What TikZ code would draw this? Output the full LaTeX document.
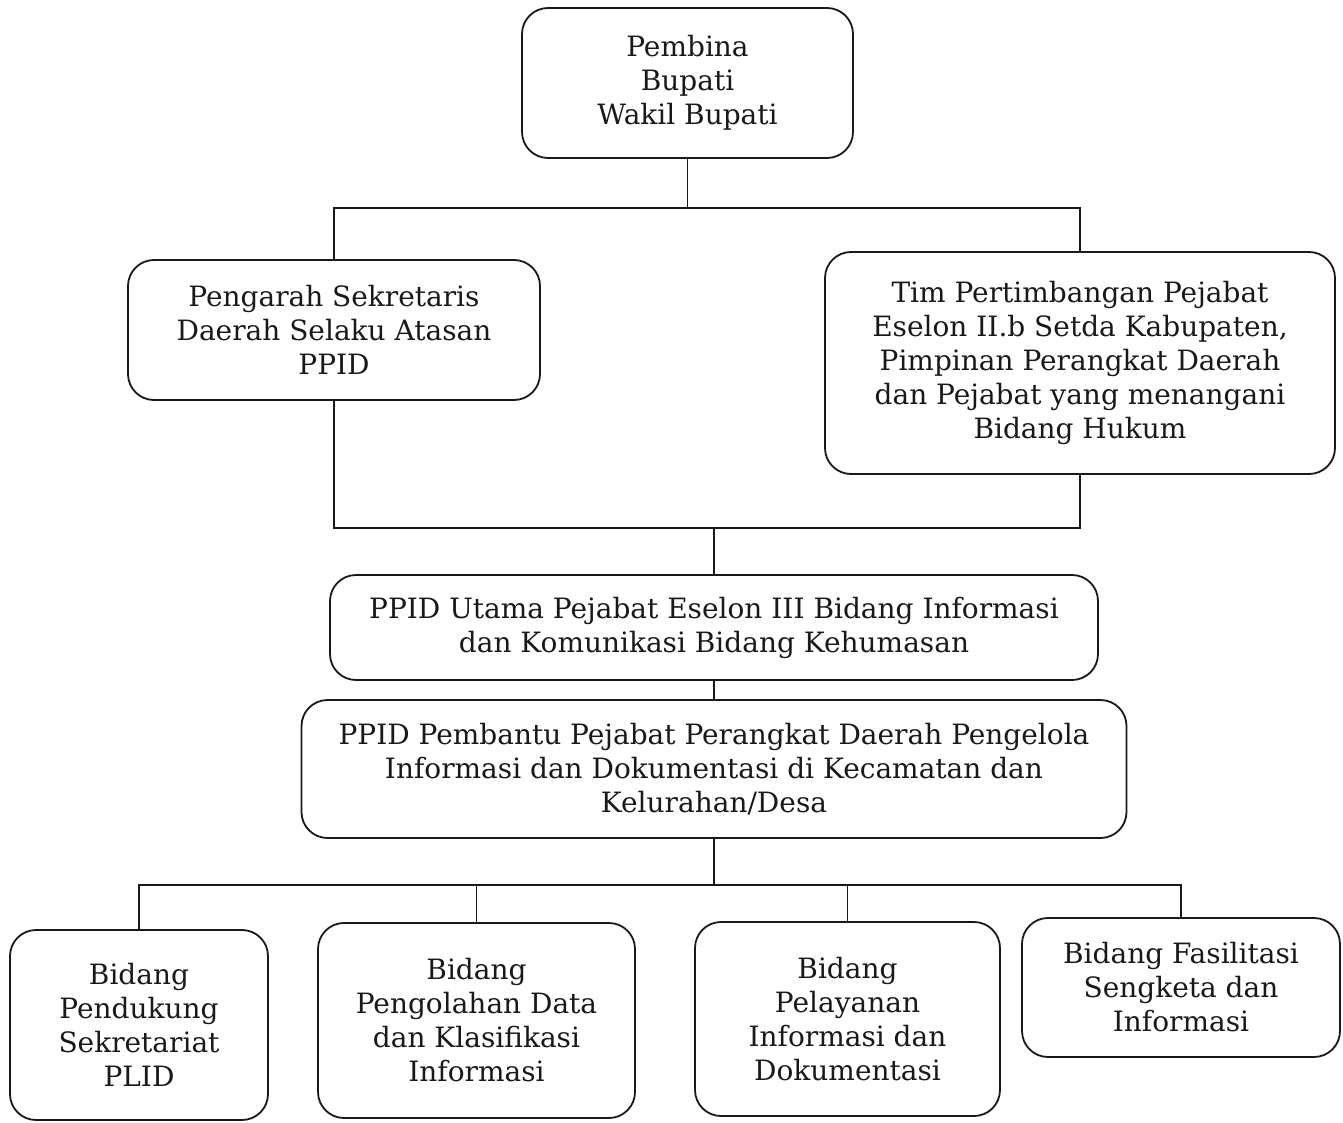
\documentclass[tikz,border=0pt]{standalone}
\usepackage{fontspec}
\setmainfont{DejaVu Serif}
\begin{document}
\begin{tikzpicture}[x=1pt,y=-1pt,
  box/.style={draw=black!90, line width=1.8pt, rounded corners=26pt, align=center,
    font=\fontsize{28}{34}\selectfont, text=black!90, inner sep=0pt},
  link/.style={draw=black!90, line width=1.8pt}]
\useasboundingbox (0,0) rectangle (1343,1123);
\node[box, minimum width=331pt, minimum height=150pt] (pembina) at (687.5,83) {Pembina\\Bupati\\Wakil Bupati};
\node[box, minimum width=412pt, minimum height=140pt] (pengarah) at (334,330) {Pengarah Sekretaris\\Daerah Selaku Atasan\\PPID};
\node[box, minimum width=510pt, minimum height=222pt] (tim) at (1080,363) {Tim Pertimbangan Pejabat\\Eselon II.b Setda Kabupaten,\\Pimpinan Perangkat Daerah\\dan Pejabat yang menangani\\Bidang Hukum};
\node[box, minimum width=768pt, minimum height=105pt] (utama) at (714,627.5) {PPID Utama Pejabat Eselon III Bidang Informasi\\dan Komunikasi Bidang Kehumasan};
\node[box, minimum width=825pt, minimum height=138pt] (pembantu) at (714,769) {PPID Pembantu Pejabat Perangkat Daerah Pengelola\\Informasi dan Dokumentasi di Kecamatan dan\\Kelurahan/Desa};
\node[box, minimum width=258pt, minimum height=190pt] (b1) at (139,1025) {Bidang\\Pendukung\\Sekretariat\\PLID};
\node[box, minimum width=317pt, minimum height=195pt] (b2) at (476.5,1020.5) {Bidang\\Pengolahan Data\\dan Klasifikasi\\Informasi};
\node[box, minimum width=305pt, minimum height=194pt] (b3) at (847.5,1019) {Bidang\\Pelayanan\\Informasi dan\\Dokumentasi};
\node[box, minimum width=318pt, minimum height=139pt] (b4) at (1181,987.5) {Bidang Fasilitasi\\Sengketa dan\\Informasi};

\coordinate (bus1) at (687.5,208);
\coordinate (bus2) at (714,528);
\coordinate (bus3) at (714,885);

\draw[link] (pembina.south) -- (bus1);
\draw[link] (pengarah.north) -- (pengarah.north |- bus1) -- (tim.north |- bus1) -- (tim.north);
\draw[link] (pengarah.south) -- (pengarah.south |- bus2) -- (tim.south |- bus2) -- (tim.south);
\draw[link] (bus2) -- (utama.north);
\draw[link] (utama.south) -- (pembantu.north);
\draw[link] (pembantu.south) -- (bus3);
\draw[link] (b1.north) -- (b1.north |- bus3) -- (b4.north |- bus3) -- (b4.north);
\draw[link] (b2.north) -- (b2.north |- bus3);
\draw[link] (b3.north) -- (b3.north |- bus3);
\end{tikzpicture}
\end{document}
